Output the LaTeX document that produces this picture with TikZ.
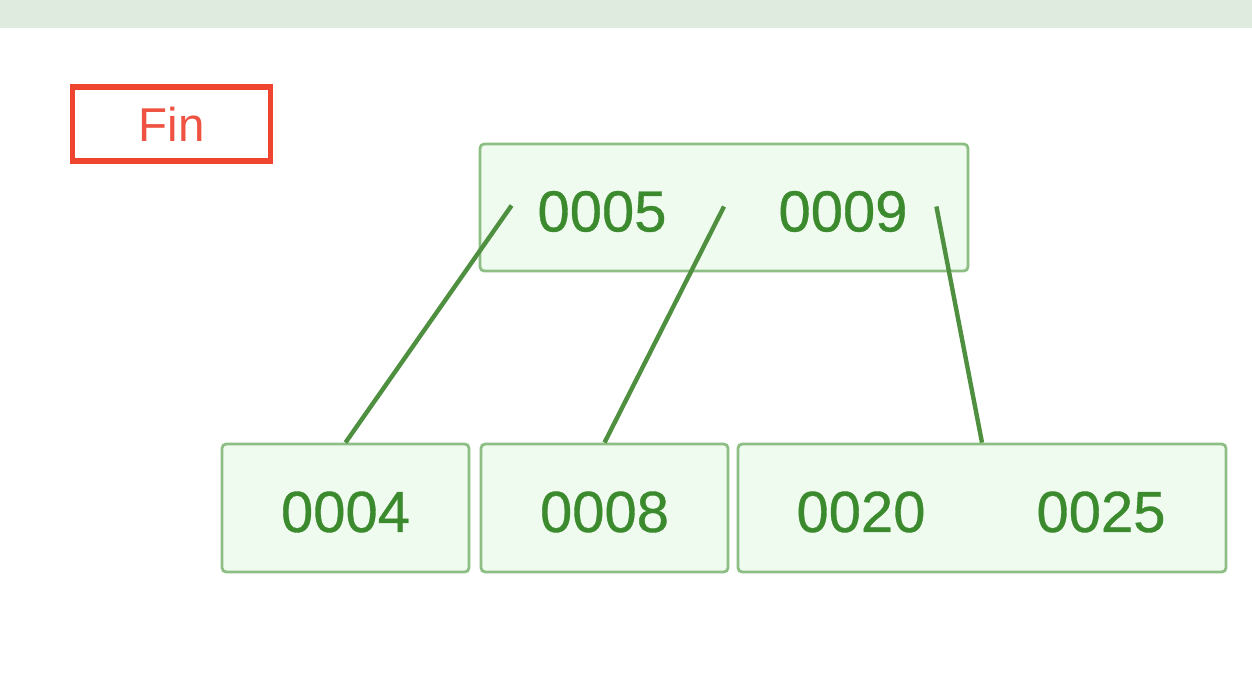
\documentclass[tikz,border=0pt]{standalone}
\usepackage{fontspec}
\setmainfont{Liberation Sans}
\definecolor{topbar}{HTML}{E0EBE0}
\definecolor{finred}{HTML}{EE4430}
\definecolor{fintext}{HTML}{EF5242}
\definecolor{nodeline}{HTML}{8DBF84}
\definecolor{nodefill}{HTML}{F0FBEF}
\definecolor{keytext}{HTML}{3C8A2E}
\definecolor{ptrline}{HTML}{4F8F40}

\begin{document}
\begin{tikzpicture}[x=1cm,y=1cm,
  bnode/.style={draw=nodeline,fill=nodefill,line width=.8pt,rounded corners=1.2pt,inner sep=0pt},
  key/.style={font=\fontsize{16.5}{18}\selectfont\addfontfeature{FakeBold=.6},text=keytext,inner sep=0pt},
  ptr/.style={draw=ptrline,line width=1.25pt},
  finbox/.style={draw=finred,line width=1.45pt,minimum width=1.98cm,minimum height=.74cm,
    font=\fontsize{13.5}{16}\selectfont,text=fintext}]
\useasboundingbox (0,0) rectangle (12.52,6.92);
\fill[white] (0,0) rectangle (12.52,6.92);
\fill[topbar] (0,6.64) rectangle (12.52,6.92);

% STATUS LABEL
\node[finbox] (fin) at (1.715,5.68) {Fin};

% ROOT NODE WITH TWO KEYS
\node[bnode,minimum width=4.88cm,minimum height=1.27cm] (root) at (7.24,4.845) {};
\node[key] (k5) at ([xshift=-1.22cm,yshift=-.04cm]root.center) {0005};
\node[key] (k9) at ([xshift=1.19cm,yshift=-.04cm]root.center) {0009};
\coordinate (p0) at ([xshift=.33cm,yshift=.02cm]root.west);
\coordinate (p1) at ([yshift=.01cm]root.center);
\coordinate (p2) at ([xshift=-.33cm,yshift=.01cm]root.east);

% LEAF NODES
\node[bnode,minimum width=2.47cm,minimum height=1.28cm] (leafa) at (3.455,1.84) {};
\node[key] (k4) at ([yshift=-.04cm]leafa.center) {0004};
\node[bnode,minimum width=2.47cm,minimum height=1.28cm] (leafb) at (6.045,1.84) {};
\node[key] (k8) at ([yshift=-.04cm]leafb.center) {0008};
\node[bnode,minimum width=4.88cm,minimum height=1.28cm] (leafc) at (9.82,1.84) {};
\node[key] (k20) at ([xshift=-1.21cm,yshift=-.04cm]leafc.center) {0020};
\node[key] (k25) at ([xshift=1.19cm,yshift=-.04cm]leafc.center) {0025};

% CHILD POINTERS
\draw[ptr] (p0) -- (leafa.north);
\draw[ptr] (p1) -- (leafb.north);
\draw[ptr] (p2) -- (leafc.north);
\end{tikzpicture}
\end{document}
